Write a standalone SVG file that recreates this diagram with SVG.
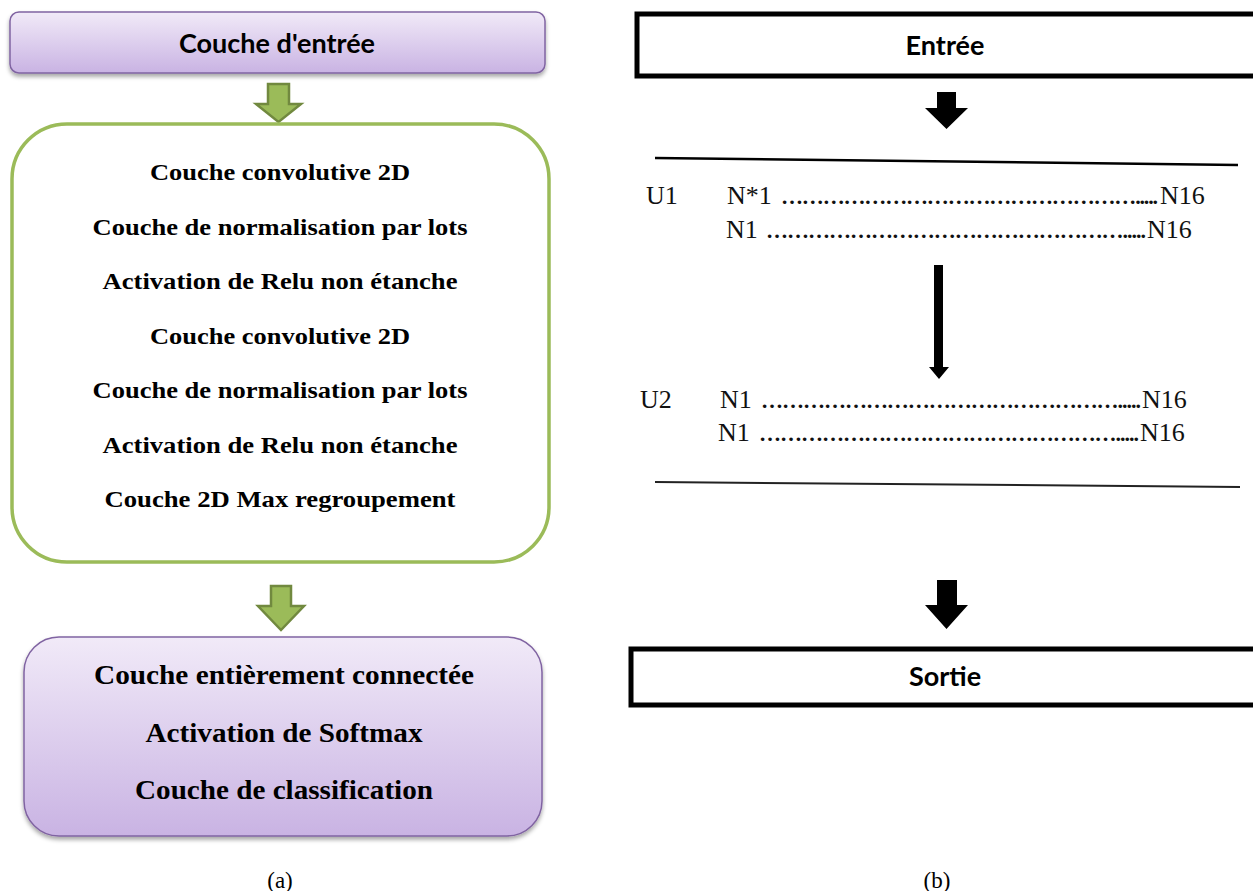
<svg xmlns="http://www.w3.org/2000/svg" width="1253" height="891" viewBox="0 0 1253 891">
<defs>
<linearGradient id="lav" x1="0" y1="0" x2="0" y2="1">
<stop offset="0" stop-color="#F1EAF8"/>
<stop offset="1" stop-color="#C9B3E3"/>
</linearGradient>
<filter id="sh" x="-5%" y="-5%" width="110%" height="120%">
<feDropShadow dx="0" dy="3" stdDeviation="2" flood-color="#000" flood-opacity="0.35"/>
</filter>
<style>
.pbox{fill:url(#lav);stroke:#8064A2;stroke-width:1.5;filter:url(#sh)}
.gbox{fill:#fff;stroke:#9BBB59;stroke-width:3.5}
.garrow{fill:#9BBB59;stroke:#71893F;stroke-width:2.5;stroke-linejoin:miter}
.bbox{fill:#fff;stroke:#000;stroke-width:5}
.barrow{fill:#000}
.sansb{font-family:Lato,"Liberation Sans",sans-serif;font-weight:bold;fill:#000;text-anchor:middle}
.tb{font-family:"Liberation Serif","Times New Roman",serif;font-weight:bold;fill:#000;text-anchor:middle}
.ser{font-family:"Liberation Serif",serif;fill:#111;font-size:26px}
.dots{font-family:"Liberation Serif",serif;fill:#111;font-size:22px;font-weight:bold}
.cap{font-family:"Liberation Serif",serif;font-size:23px;fill:#000;text-anchor:middle}
</style>
</defs>
<rect width="1253" height="891" fill="#fff"/>

<g id="connectors">
<path class="garrow" d="M268,84 H289 V104 H301 L278.5,122 L256,104 H268 Z"/>
<path class="garrow" d="M271,586 H291 V606 H304 L281,630 L258,606 H271 Z"/>
<path class="barrow" d="M937,92 H956 V108 H968 L946.5,129 L925,108 H937 Z"/>
<path class="barrow" d="M934,265 H943 V367 H949 L939,379 L929,367 H934 Z"/>
<path class="barrow" d="M937,580 H957 V605 H968 L946.5,629 L925,605 H937 Z"/>
<line x1="655" y1="158" x2="1238" y2="165" stroke="#000" stroke-width="2.5"/>
<line x1="655" y1="482" x2="1240" y2="487" stroke="#222" stroke-width="2"/>
</g>

<g id="input-layer">
<rect class="pbox" x="10" y="12" width="535" height="61" rx="9"/>
<text class="sansb" x="277" y="53" font-size="27">Couche d'entrée</text>
</g>

<g id="conv-block">
<rect class="gbox" x="12" y="124" width="537" height="438" rx="55"/>
<text class="tb" font-size="23" x="280" y="180" textLength="260" lengthAdjust="spacingAndGlyphs">Couche convolutive 2D</text>
<text class="tb" font-size="23" x="280" y="235" textLength="375" lengthAdjust="spacingAndGlyphs">Couche de normalisation par lots</text>
<text class="tb" font-size="23" x="280" y="289" textLength="355" lengthAdjust="spacingAndGlyphs">Activation de Relu non étanche</text>
<text class="tb" font-size="23" x="280" y="344" textLength="260" lengthAdjust="spacingAndGlyphs">Couche convolutive 2D</text>
<text class="tb" font-size="23" x="280" y="398" textLength="375" lengthAdjust="spacingAndGlyphs">Couche de normalisation par lots</text>
<text class="tb" font-size="23" x="280" y="453" textLength="355" lengthAdjust="spacingAndGlyphs">Activation de Relu non étanche</text>
<text class="tb" font-size="23" x="280" y="507" textLength="351" lengthAdjust="spacingAndGlyphs">Couche 2D Max regroupement</text>
</g>

<g id="output-block">
<rect class="pbox" x="24" y="637" width="518" height="199" rx="35"/>
<text class="tb" font-size="27" x="284" y="684" textLength="380" lengthAdjust="spacingAndGlyphs">Couche entièrement connectée</text>
<text class="tb" font-size="27" x="284" y="742" textLength="277" lengthAdjust="spacingAndGlyphs">Activation de Softmax</text>
<text class="tb" font-size="27" x="284" y="799" textLength="298" lengthAdjust="spacingAndGlyphs">Couche de classification</text>
</g>

<text class="cap" x="280" y="888">(a)</text>
<text class="cap" x="937" y="888">(b)</text>

<g id="entree">
<rect class="bbox" x="637" y="14" width="630" height="62"/>
<text class="sansb" x="945" y="55" font-size="27">Entrée</text>
</g>

<g id="u1">
<text class="ser" x="646" y="204">U1</text>
<text class="ser" x="727" y="204">N*1</text>
<text class="dots" x="781" y="204" textLength="377" lengthAdjust="spacing">…………………………………………….....</text>
<text class="ser" x="1160" y="204">N16</text>
<text class="ser" x="726" y="238">N1</text>
<text class="dots" x="766" y="238" textLength="380" lengthAdjust="spacing">…………………………………………….....</text>
<text class="ser" x="1147" y="238">N16</text>
</g>

<g id="u2">
<text class="ser" x="640" y="408">U2</text>
<text class="ser" x="720" y="408">N1</text>
<text class="dots" x="761" y="408" textLength="380" lengthAdjust="spacing">…………………………………………….....</text>
<text class="ser" x="1142" y="408">N16</text>
<text class="ser" x="718" y="441">N1</text>
<text class="dots" x="759" y="441" textLength="380" lengthAdjust="spacing">…………………………………………….....</text>
<text class="ser" x="1140" y="441">N16</text>
</g>

<g id="sortie">
<rect class="bbox" x="631" y="649" width="636" height="56"/>
<text class="sansb" x="945" y="686" font-size="27">Sortie</text>
</g>
</svg>
